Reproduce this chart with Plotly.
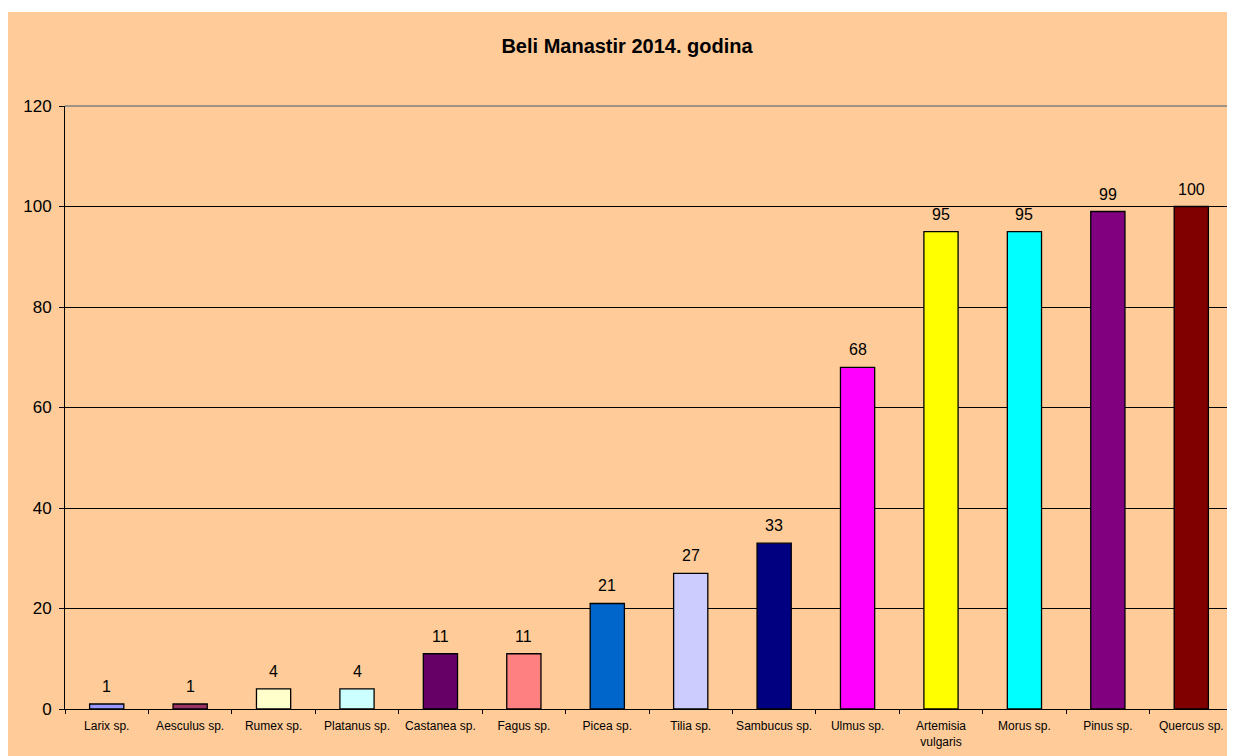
import plotly.graph_objects as go

categories = ["Larix sp.", "Aesculus sp.", "Rumex sp.", "Platanus sp.", "Castanea sp.",
              "Fagus sp.", "Picea sp.", "Tilia sp.", "Sambucus sp.", "Ulmus sp.",
              "Artemisia<br>vulgaris", "Morus sp.", "Pinus sp.", "Quercus sp."]
values = [1, 1, 4, 4, 11, 11, 21, 27, 33, 68, 95, 95, 99, 100]
colors = ["#9999FF", "#993366", "#FFFFCC", "#CCFFFF", "#660066", "#FF8080", "#0066CC",
          "#CCCCFF", "#000080", "#FF00FF", "#FFFF00", "#00FFFF", "#800080", "#800000"]
y_ticks = [0, 20, 40, 60, 80, 100, 120]

fig = go.Figure(go.Bar(
    x=categories, y=values,
    marker=dict(color=colors, line=dict(color="black", width=1.3)),
    cliponaxis=False, width=0.41,
))

for c, v in zip(categories, values):
    fig.add_annotation(x=c, y=v, text=str(v), showarrow=False, yanchor="bottom", yshift=7,
                       font=dict(family="Arial", size=16, color="black"))

# figure coordinates (page is offset by 8px body margin)
L, R, T, B = 57, 1225, 98, 701
W, H = 1235, 756
pw, ph = R - L, B - T

fig.update_layout(
    width=W, height=H,
    margin=dict(l=L, r=W - R, t=T, b=H - B),
    paper_bgcolor="white",
    plot_bgcolor="rgba(0,0,0,0)",
    showlegend=False,
    title=dict(text="<b>Beli Manastir 2014. godina</b>", x=619 / W, xanchor="center",
               y=1 - 38 / H, yanchor="middle",
               font=dict(family="Arial", size=20, color="black")),
    font=dict(family="Arial", color="black"),
    xaxis=dict(tickson="boundaries", ticks="outside", ticklen=4, tickcolor="black",
               tickangle=0, ticklabelstandoff=6,
               showline=True, linecolor="black", linewidth=1,
               tickfont=dict(family="Arial", size=12, color="black"), showgrid=False),
    yaxis=dict(range=[0, 120], tickvals=y_ticks, ticks="outside", ticklen=5, tickcolor="black",
               showline=True, linecolor="black", linewidth=1,
               gridcolor="black", gridwidth=1, zeroline=False,
               ticklabelstandoff=4,
               tickfont=dict(family="Arial", size=17, color="black")),
    shapes=[
        dict(type="rect", xref="paper", yref="paper", layer="below",
             x0=(0 - L) / pw, x1=(W - L) / pw, y0=(B - H) / ph, y1=(B - 4) / ph,
             fillcolor="#FFCC99", line=dict(width=0)),
        dict(type="line", xref="paper", yref="paper", x0=1, x1=1, y0=0, y1=1,
             line=dict(color="#808080", width=1.5)),
        dict(type="line", xref="paper", yref="paper", x0=0, x1=1, y0=1, y1=1,
             line=dict(color="#808080", width=1.5)),
    ],
)

fig.write_html("out.html")
